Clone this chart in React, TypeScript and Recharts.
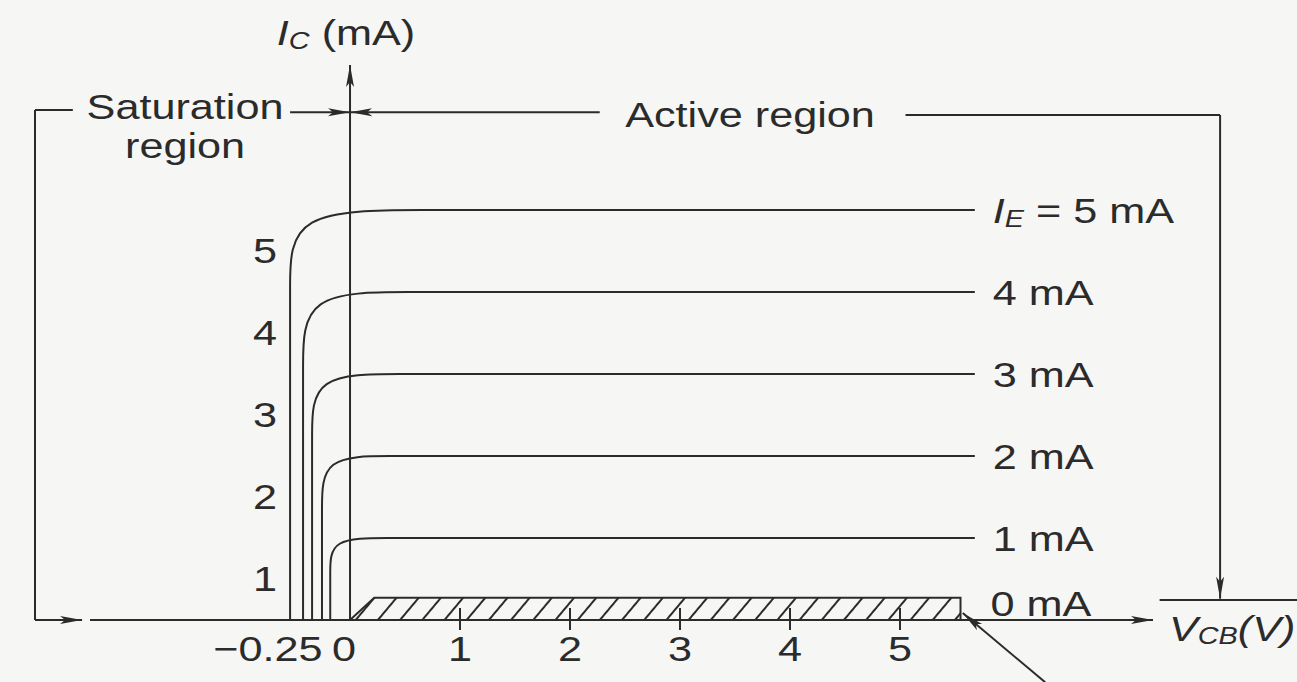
import React from "react";
import {
  ComposedChart,
  Line,
  Area,
  XAxis,
  YAxis,
  ReferenceLine,
  ReferenceDot,
} from "recharts";

// V_CB (V) / I_C (mA) control points (curves drawn as basis splines)
const ie5 = [
  { vcb: -0.545, ic: 0 },
  { vcb: -0.545, ic: 3.16 },
  { vcb: -0.545, ic: 4.08 },
  { vcb: -0.545, ic: 5 },
  { vcb: 0.655, ic: 5 },
  { vcb: 1.855, ic: 5 },
  { vcb: 5.68, ic: 5 },
];
const ie4 = [
  { vcb: -0.427, ic: 0 },
  { vcb: -0.427, ic: 2.2 },
  { vcb: -0.427, ic: 3.1 },
  { vcb: -0.427, ic: 4 },
  { vcb: 0.533, ic: 4 },
  { vcb: 1.493, ic: 4 },
  { vcb: 5.68, ic: 4 },
];
const ie3 = [
  { vcb: -0.345, ic: 0 },
  { vcb: -0.345, ic: 1.52 },
  { vcb: -0.345, ic: 2.26 },
  { vcb: -0.345, ic: 3 },
  { vcb: 0.455, ic: 3 },
  { vcb: 1.255, ic: 3 },
  { vcb: 5.68, ic: 3 },
];
const ie2 = [
  { vcb: -0.255, ic: 0 },
  { vcb: -0.255, ic: 0.72 },
  { vcb: -0.255, ic: 1.36 },
  { vcb: -0.255, ic: 2 },
  { vcb: 0.365, ic: 2 },
  { vcb: 0.985, ic: 2 },
  { vcb: 5.68, ic: 2 },
];
const ie1 = [
  { vcb: -0.18, ic: 0 },
  { vcb: -0.18, ic: 0.16 },
  { vcb: -0.18, ic: 0.58 },
  { vcb: -0.18, ic: 1 },
  { vcb: 0.34, ic: 1 },
  { vcb: 0.86, ic: 1 },
  { vcb: 5.68, ic: 1 },
];
// cut-off region (I_E = 0), hatched
const cutoff = [
  { vcb: 0, ic: 0 },
  { vcb: 0.22, ic: 0.27 },
  { vcb: 5.55, ic: 0.27 },
  { vcb: 5.55, ic: 0 },
];

const vcbTicks = [-0.25, 0, 1, 2, 3, 4, 5];
const icTicks = [1, 2, 3, 4, 5];
const emitterLabels = ["5 mA", "4 mA", "3 mA", "2 mA", "1 mA"];

const INK = "#2b2b2b";
const FONT = '"Liberation Sans", Arial, Helvetica, sans-serif';

function SText({ x, y, anchor = "middle", size = 36, italic = false, children }: any) {
  return (
    <text
      transform={`translate(${x} ${y}) scale(1.2 1)`}
      textAnchor={anchor}
      dominantBaseline="central"
      fontFamily={FONT}
      fontSize={size}
      fontStyle={italic ? "italic" : "normal"}
      fill={INK}
    >
      {children}
    </text>
  );
}

const VcbTick = ({ x, y, payload }: any) => {
  const v = payload.value;
  if (v < 0) return <SText x={x} y={y + 28} anchor="end">−0.25</SText>;
  if (v === 0) return <SText x={x - 6} y={y + 28}>0</SText>;
  return (
    <g>
      <line x1={x} y1={y - 12} x2={x} y2={y + 10} stroke={INK} strokeWidth={2} />
      <SText x={x} y={y + 28}>{v}</SText>
    </g>
  );
};

const IcTick = ({ y, payload }: any) => (
  <SText x={265} y={y + 40}>{payload.value}</SText>
);

const seg = (head: boolean) => (p: any) => (
  <line
    x1={p.x1}
    y1={p.y1}
    x2={p.x2}
    y2={p.y2}
    stroke={INK}
    strokeWidth={2}
    markerEnd={head ? "url(#arrowHead)" : undefined}
  />
);

const textAt = (render: (cx: number, cy: number) => React.ReactNode) => (p: any) => (
  <g>{render(p.cx, p.cy)}</g>
);

const endLabel = (text: string, last: number, first: boolean) => (p: any) => {
  if (p.index !== last) return null;
  if (first) {
    return (
      <SText x={p.x + 18} y={p.y} anchor="start">
        <tspan fontStyle="italic">I</tspan>
        <tspan fontStyle="italic" fontSize={24} dy={9}>E</tspan>
        <tspan dy={-9}> = {text}</tspan>
      </SText>
    );
  }
  return <SText x={p.x + 18} y={p.y} anchor="start">{text}</SText>;
};

const curves = [ie5, ie4, ie3, ie2, ie1];

export default function App() {
  return (
    <div style={{ position: "absolute", left: 0, top: 0, width: 1297, height: 682, background: "#f6f6f5" }}>
      <ComposedChart width={1297} height={682} margin={{ top: 65, right: 144, bottom: 32, left: 30 }}>
        <defs>
          <marker
            id="arrowHead"
            viewBox="0 0 22 10"
            refX="22"
            refY="5"
            markerWidth="22"
            markerHeight="10"
            markerUnits="userSpaceOnUse"
            orient="auto"
          >
            <path d="M0,1 L22,5 L0,9 L5,5 z" fill={INK} />
          </marker>
          <pattern id="hatch" width="17" height="17" patternUnits="userSpaceOnUse" patternTransform="rotate(40)">
            <line x1="8" y1="0" x2="8" y2="17" stroke={INK} strokeWidth={2} />
          </pattern>
        </defs>
        <XAxis
          dataKey="vcb"
          type="number"
          domain={[-2.364, 7.3]}
          ticks={vcbTicks}
          allowDataOverflow
          axisLine={false}
          tickLine={false}
          tickSize={0}
          tickMargin={0}
          height={30}
          tick={<VcbTick />}
        />
        <YAxis
          type="number"
          domain={[0, 6.77]}
          ticks={icTicks}
          allowDataOverflow
          width={60}
          axisLine={false}
          tickLine={false}
          tick={<IcTick />}
        />
        <Area
          data={cutoff}
          dataKey="ic"
          type="linear"
          fill="url(#hatch)"
          fillOpacity={1}
          stroke={INK}
          strokeWidth={2}
          isAnimationActive={false}
          label={(p: any) =>
            p.index === 2 ? <SText x={p.x + 30} y={p.y + 5} anchor="start">0 mA</SText> : null
          }
        />
        {curves.map((c, i) => (
          <Line
            key={i}
            data={c}
            dataKey="ic"
            type="basis"
            stroke={INK}
            strokeWidth={2}
            dot={false}
            activeDot={false}
            isAnimationActive={false}
            label={endLabel(emitterLabels[i], c.length - 1, i === 0)}
          />
        ))}

        {/* axes with arrow heads */}
        <ReferenceLine segment={[{ x: -2.364, y: 0 }, { x: 7.3, y: 0 }]} ifOverflow="visible" shape={seg(true)} />
        <ReferenceLine segment={[{ x: 0, y: 0 }, { x: 0, y: 6.77 }]} ifOverflow="visible" shape={seg(true)} />

        {/* saturation region bracket */}
        <ReferenceLine segment={[{ x: -2.864, y: 6.22 }, { x: -2.52, y: 6.22 }]} ifOverflow="visible" shape={seg(false)} />
        <ReferenceLine segment={[{ x: -2.864, y: 6.22 }, { x: -2.864, y: 0 }]} ifOverflow="visible" shape={seg(false)} />
        <ReferenceLine segment={[{ x: -2.864, y: 0 }, { x: -2.436, y: 0 }]} ifOverflow="visible" shape={seg(true)} />
        <ReferenceLine segment={[{ x: -0.545, y: 6.195 }, { x: 0, y: 6.195 }]} ifOverflow="visible" shape={seg(true)} />

        {/* active region bracket */}
        <ReferenceLine segment={[{ x: 2.27, y: 6.195 }, { x: 0, y: 6.195 }]} ifOverflow="visible" shape={seg(true)} />
        <ReferenceLine segment={[{ x: 5.05, y: 6.16 }, { x: 7.91, y: 6.16 }]} ifOverflow="visible" shape={seg(false)} />
        <ReferenceLine segment={[{ x: 7.91, y: 6.16 }, { x: 7.91, y: 0.26 }]} ifOverflow="visible" shape={seg(true)} />
        <ReferenceLine segment={[{ x: 7.36, y: 0.245 }, { x: 8.62, y: 0.245 }]} ifOverflow="visible" shape={seg(false)} />

        {/* pointer to cut-off region */}
        <ReferenceLine segment={[{ x: 6.32, y: -0.76 }, { x: 5.57, y: 0.085 }]} ifOverflow="visible" shape={seg(true)} />

        {/* text annotations */}
        <ReferenceDot
          x={0}
          y={7.17}
          r={0}
          ifOverflow="visible"
          shape={textAt((cx, cy) => (
            <SText x={cx - 4} y={cy}>
              <tspan fontStyle="italic">I</tspan>
              <tspan fontStyle="italic" fontSize={24} dy={9}>C</tspan>
              <tspan dy={-9}> (mA)</tspan>
            </SText>
          ))}
        />
        <ReferenceDot
          x={-1.5}
          y={6.22}
          r={0}
          ifOverflow="visible"
          shape={textAt((cx, cy) => <SText x={cx} y={cy - 4}>Saturation</SText>)}
        />
        <ReferenceDot
          x={-1.5}
          y={5.79}
          r={0}
          ifOverflow="visible"
          shape={textAt((cx, cy) => <SText x={cx} y={cy}>region</SText>)}
        />
        <ReferenceDot
          x={3.636}
          y={6.17}
          r={0}
          ifOverflow="visible"
          shape={textAt((cx, cy) => <SText x={cx} y={cy}>Active region</SText>)}
        />
        <ReferenceDot
          x={8.02}
          y={-0.1}
          r={0}
          ifOverflow="visible"
          shape={textAt((cx, cy) => (
            <SText x={cx} y={cy} italic>
              <tspan>V</tspan>
              <tspan fontSize={24} dy={8}>CB</tspan>
              <tspan dy={-8}>(V)</tspan>
            </SText>
          ))}
        />
      </ComposedChart>
    </div>
  );
}
